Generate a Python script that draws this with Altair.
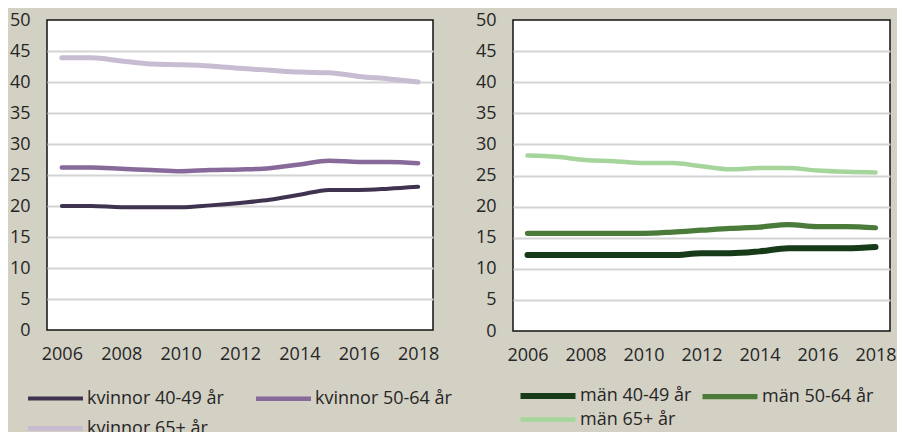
import altair as alt
import pandas as pd

years = list(range(2006, 2019))

kv_series = ["kvinnor 40-49 år", "kvinnor 50-64 år", "kvinnor 65+ år"]
kv_40_49 = [20.0, 20.0, 19.8, 19.8, 19.8, 20.1, 20.5, 21.0, 21.8, 22.6, 22.6, 22.8, 23.1]
kv_50_64 = [26.2, 26.2, 26.0, 25.8, 25.6, 25.8, 25.9, 26.1, 26.7, 27.3, 27.1, 27.1, 26.9]
kv_65 = [43.9, 43.9, 43.4, 42.9, 42.8, 42.6, 42.2, 41.9, 41.6, 41.5, 40.9, 40.5, 40.0]
kv_colors = ["#3f3350", "#87699a", "#c7bcd2"]
kv_widths = [4, 5, 5]

man_series = ["män 40-49 år", "män 50-64 år", "män 65+ år"]
man_40_49 = [12.2, 12.2, 12.2, 12.2, 12.2, 12.2, 12.5, 12.5, 12.8, 13.3, 13.3, 13.3, 13.5]
man_50_64 = [15.7, 15.7, 15.7, 15.7, 15.7, 15.9, 16.2, 16.5, 16.7, 17.1, 16.8, 16.8, 16.6]
man_65 = [28.2, 28.0, 27.5, 27.3, 27.0, 27.0, 26.5, 26.0, 26.2, 26.2, 25.8, 25.6, 25.5]
man_colors = ["#173a18", "#4b7b3b", "#a6d59b"]
man_widths = [6, 4.5, 5]

x_ticks = [2006, 2008, 2010, 2012, 2014, 2016, 2018]
y_ticks = [0, 5, 10, 15, 20, 25, 30, 35, 40, 45, 50]

FONT = "Open Sans"
TXT = "#262626"
LEGEND_SYMBOL = "M-4,0H4"


def long_df(names, arrays):
    rows = []
    for name, arr in zip(names, arrays):
        for yr, v in zip(years, arr):
            rows.append({"year": yr, "value": v, "series": name})
    return pd.DataFrame(rows)


def panel(df, names, colors, widths, legend_x, legend_y, col_pad, row_pad, w, h):
    return alt.Chart(df).mark_line(strokeCap="round", strokeJoin="round", interpolate="monotone").encode(
        x=alt.X("year:Q",
                scale=alt.Scale(domain=[2005.5, 2018.5], nice=False, zero=False),
                axis=alt.Axis(values=x_ticks, format="d", title=None, grid=False, ticks=False,
                              domain=False, labelPadding=15, labelFontSize=18, labelFont=FONT,
                              labelColor=TXT)),
        y=alt.Y("value:Q",
                scale=alt.Scale(domain=[0, 50], nice=False),
                axis=alt.Axis(values=y_ticks, title=None, grid=True, ticks=False, domain=False,
                              labelPadding=17, labelFontSize=18, labelFont=FONT, labelColor=TXT,
                              gridColor="#d4d4d4", gridWidth=2,
                              gridOpacity={"condition": {"test": "datum.value === 0 || datum.value === 50", "value": 0}, "value": 1})),
        color=alt.Color("series:N",
                        scale=alt.Scale(domain=names, range=colors),
                        legend=alt.Legend(title=None, orient="none", legendX=legend_x, legendY=legend_y,
                                          direction="horizontal", columns=2, padding=0,
                                          symbolType=LEGEND_SYMBOL, symbolSize=189,
                                          symbolStrokeWidth=5, labelFontSize=18, labelFont=FONT,
                                          labelColor=TXT, columnPadding=col_pad, rowPadding=row_pad,
                                          labelOffset=22, labelLimit=300)),
        strokeWidth=alt.StrokeWidth("series:N",
                                    scale=alt.Scale(domain=names, range=widths),
                                    legend=None),
    ).properties(width=w, height=h)


left = panel(long_df(kv_series, [kv_40_49, kv_50_64, kv_65]), kv_series, kv_colors, kv_widths,
             -1, 369, 23, 10, 386, 310)
right = panel(long_df(man_series, [man_40_49, man_50_64, man_65]), man_series, man_colors, man_widths,
              25, 366, 0, 2, 377, 311)

chart = alt.hconcat(left, right, spacing=80, bounds="flush").resolve_scale(
    color="independent", strokeWidth="independent"
).resolve_legend(color="independent").configure(
    background="#d3d1c4",
    padding={"left": 0, "top": 2, "right": 0, "bottom": 0},
).configure_view(stroke="#111111", strokeWidth=1.5, fill="white")

chart.save("out.html", embed_options={"renderer": "svg", "actions": False})
